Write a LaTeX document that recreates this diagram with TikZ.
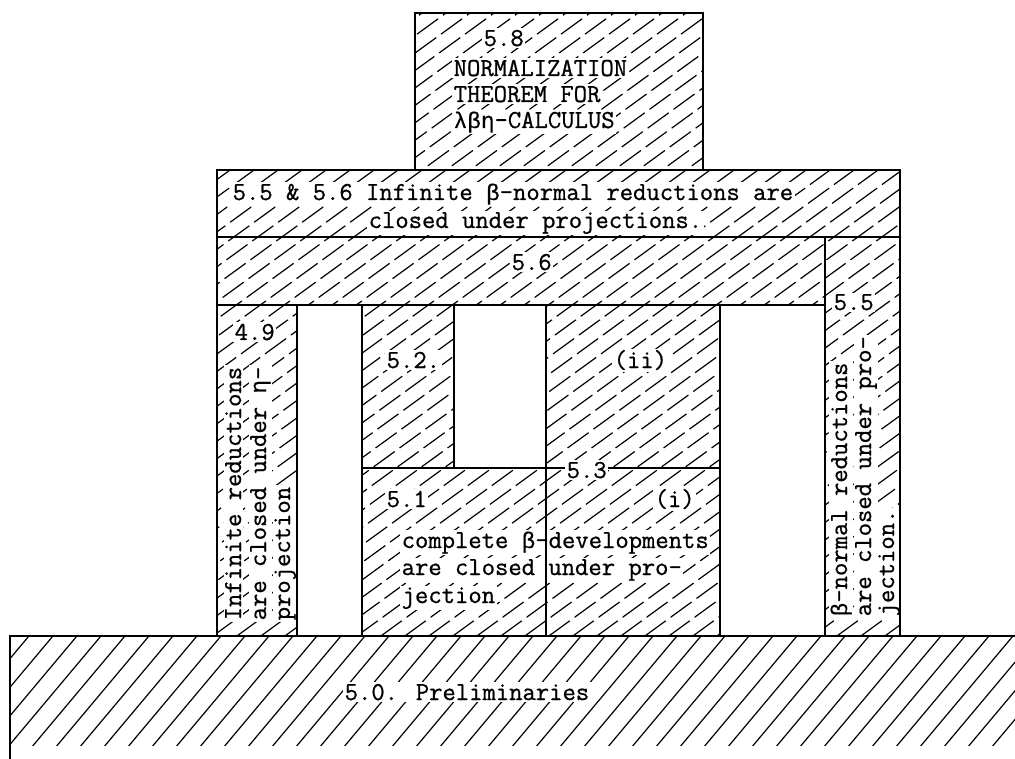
\documentclass[tikz,border=0pt]{standalone}
\usepackage{fontspec}
\newfontfamily\tw{Latin Modern Mono}[FakeBold=0.8]
\newfontfamily\gr{Liberation Mono}[FakeBold=0.4]
\newcommand{\gk}[1]{{\gr\fontsize{22.7}{27}\selectfont #1}}
\begin{document}
\begin{tikzpicture}[x=1pt,y=-1pt,
  txt/.style={font=\tw\fontsize{25.9}{27}\selectfont, inner sep=1.5pt, fill=white, anchor=base west},
  bord/.style={line width=2.6pt, line cap=rect},
  hatchline/.style={line width=1.2pt}]
\fill[white] (0,0) rectangle (1015,759);
\useasboundingbox (0,0) rectangle (1015,759);
% upper hatching
\begin{scope}
\clip (415,13) rectangle (703,170)
      (217,170) rectangle (900,305)
      (825,305) rectangle (900,636)
      (217,305) rectangle (297,636)
      (362,305) rectangle (454,468)
      (546,305) rectangle (720,468)
      (362,468) rectangle (720,636);
\foreach \c in {200,224,...,1800}
  \draw[hatchline, dash pattern=on 26pt off 6pt] (\c,0) -- (\c-1.376*640,640);
\end{scope}
% ground hatching
\begin{scope}
\clip (10,636) rectangle (1015,745);
\foreach \c in {10,34,...,1130}
  \draw[hatchline] (\c,630) -- (\c-0.839*120,750);
\end{scope}
% texts
\node[txt] (n58) at (482,46) {5.8};
\node[txt] (n58a) at (452,76) {NORMALIZATION};
\node[txt] (n58b) at (452,102) {THEOREM FOR};
\node[txt] (n58c) at (452,128) {\gk{λβη}-CALCULUS};
\node[txt] (n556a) at (231,200) {5.5 \& 5.6 Infinite \gk{β}-normal reductions are};
\node[txt] (n556b) at (367,228) {closed under projections.};
\node[txt] (n56) at (510,270) {5.6};
\node[txt] (n49) at (233,340) {4.9};
\node[txt, rotate=90] (n49a) at (241,622) {Infinite reductions};
\node[txt, rotate=90] (n49b) at (266,622) {are closed under \gk{η}-};
\node[txt, rotate=90] (n49c) at (290,622) {projection};
\node[txt] (n55) at (832,310) {5.5};
\node[txt, rotate=90] (n55a) at (847,618) {\gk{β}-normal reductions};
\node[txt, rotate=90] (n55b) at (871,618) {are closed under pro-};
\node[txt, rotate=90] (n55c) at (894,618) {jection.};
\node[txt] (n52) at (385,368) {5.2.};
\node[txt] (nii) at (612,368) {(ii)};
\node[txt] (n51) at (385,507) {5.1};
\node[txt] (ni) at (653,507) {(i)};
\node[txt] (n51a) at (400,548) {complete \gk{β}-developments};
\node[txt] (n51b) at (400,575) {are closed under pro-};
\node[txt] (n51c) at (400,603) {jection};
\node[txt] (n50) at (343,700) {5.0. Preliminaries};
% borders
\draw[bord] (415,170) -- (415,13) -- (703,13) -- (703,170);
\draw[bord] (217,636) -- (217,170) -- (900,170) -- (900,636);
\draw[bord] (217,237) -- (900,237);
\draw[bord] (217,305) -- (825,305);
\draw[bord] (825,237) -- (825,636);
\draw[bord] (297,305) -- (297,636);
\draw[bord] (362,305) -- (362,636);
\draw[bord] (454,305) -- (454,468);
\draw[bord] (546,305) -- (546,636);
\draw[bord] (720,305) -- (720,636);
\draw[bord] (362,468) -- (720,468);
\draw[bord] (1015,636) -- (10,636) -- (10,758);
\node[txt] (n53) at (565,478) {5.3};
\end{tikzpicture}
\end{document}
